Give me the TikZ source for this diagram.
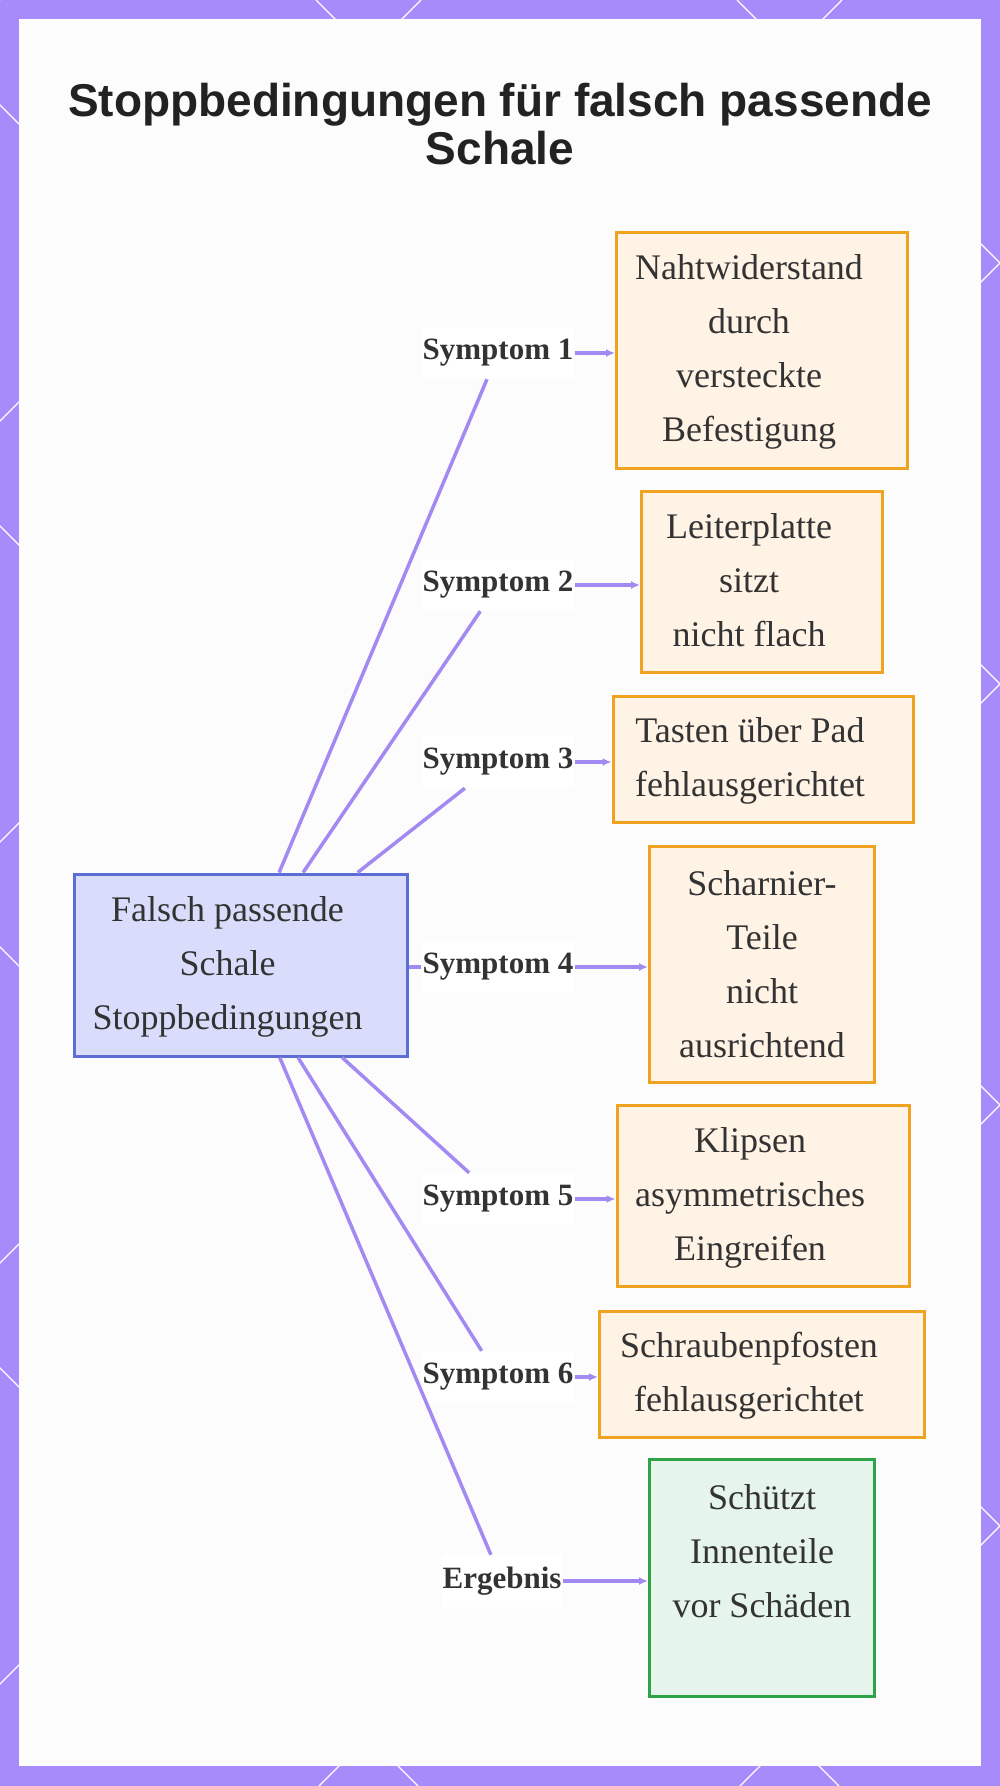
\documentclass[tikz,border=0pt]{standalone}
\usepackage{fontspec}
\setmainfont{Liberation Serif}
\newfontfamily\headfont{Liberation Sans}
\usetikzlibrary{arrows.meta}
\definecolor{framevio}{RGB}{167,139,250}
\definecolor{edgevio}{RGB}{163,138,242}
\definecolor{hubfill}{RGB}{217,221,251}
\definecolor{hubline}{RGB}{92,110,214}
\definecolor{warnfill}{RGB}{255,243,230}
\definecolor{warnline}{RGB}{240,163,32}
\definecolor{okfill}{RGB}{230,245,235}
\definecolor{okline}{RGB}{46,163,72}
\definecolor{ink}{RGB}{51,51,51}
% text sits a little left of the box middle
\newcommand\leantext[1]{\begin{tabular}{@{}c@{\hspace{26pt}}}#1\end{tabular}}
\tikzset{
  hub/.style = {rectangle, draw=hubline, fill=hubfill, line width=3pt,
                minimum width=333pt, minimum height=182pt,
                text=ink, font=\fontsize{36}{54}\selectfont},
  symbox/.style = {rectangle, draw=warnline, fill=warnfill, line width=3pt,
                   align=center, text=ink, font=\fontsize{36}{54}\selectfont},
  resbox/.style = {symbox, draw=okline, fill=okfill},
  tag/.style = {rectangle, fill=white, inner xsep=1pt, minimum height=52pt,
                text=ink, font=\fontsize{31}{31}\selectfont\bfseries},
  link/.style = {draw=edgevio, line width=3.5pt},
  arr/.style = {link, -{Latex[length=9pt,width=8pt]}}
}

\begin{document}
\begin{tikzpicture}[x=1pt, y=-1pt]
\useasboundingbox (0,0) rectangle (1000,1786);

% frame with diamond lines, then the white sheet
\fill[framevio] (0,0) rectangle (1000,1786);
\begin{scope}
\clip (0,0) rectangle (1000,1786);
\foreach \k in {-5,...,3}
  \draw[white, line width=1.2pt] ({316+421*\k},0) -- ({316+421*\k+1786},1786);
\foreach \m in {0,...,7}
  \draw[white, line width=1.2pt] ({421*\m},0) -- ({421*\m-1786},1786);
\end{scope}
\fill[white!99!black] (19,19) rectangle (981,1766);

% Title
\node[align=center, text={rgb,255:red,34;green,34;blue,34},
      font=\headfont\bfseries\fontsize{46}{48}\selectfont] (title) at (500,124)
  {Stoppbedingungen für falsch passende\\Schale};

% Hub
\node[hub] (hub) at (240.5,965) {\leantext{Falsch passende\\Schale\\Stoppbedingungen}};

% Symptom labels
\node[tag] (sym1) at (498,353) {Symptom 1};
\node[tag] (sym2) at (498,585) {Symptom 2};
\node[tag] (sym3) at (498,762) {Symptom 3};
\node[tag] (sym4) at (498,967) {Symptom 4};
\node[tag] (sym5) at (498,1199) {Symptom 5};
\node[tag] (sym6) at (498,1377) {Symptom 6};
\node[tag] (erg) at (502,1581) {Ergebnis};

% Boxes on the right
\node[symbox, minimum width=291pt, minimum height=236pt] (box1) at (762,350)
  {\leantext{Nahtwiderstand\\durch\\versteckte\\Befestigung}};
\node[symbox, minimum width=241pt, minimum height=181pt] (box2) at (762,582)
  {\leantext{Leiterplatte\\sitzt\\nicht flach}};
\node[symbox, minimum width=300pt, minimum height=126pt] (box3) at (763,759)
  {\leantext{Tasten über Pad\\fehlausgerichtet}};
\node[symbox, minimum width=225pt, minimum height=236pt] (box4) at (762,964)
  {Scharnier-\\Teile\\nicht\\ausrichtend};
\node[symbox, minimum width=292pt, minimum height=181pt] (box5) at (763,1196)
  {\leantext{Klipsen\\asymmetrisches\\Eingreifen}};
\node[symbox, minimum width=325pt, minimum height=126pt] (box6) at (762,1374)
  {\leantext{Schraubenpfosten\\fehlausgerichtet}};
\node[resbox, minimum width=225pt, minimum height=237pt] (box7) at (762,1578)
  {Schützt\\Innenteile\\vor Schäden\\\mbox{}};

% ----- LINES -----
% hub to labels
\draw[link] (hub) -- (sym1);
\draw[link] (hub) -- (sym2);
\draw[link] (hub) -- (sym3);
\draw[link] (hub.east |- sym4) -- (sym4);
\draw[link] (hub) -- (sym5);
\draw[link] (hub) -- (sym6);
\draw[link] (hub) -- (erg);
% labels to boxes
\draw[arr] (sym1) -- (box1.west |- sym1);
\draw[arr] (sym2) -- (box2.west |- sym2);
\draw[arr] (sym3) -- (box3.west |- sym3);
\draw[arr] (sym4) -- (box4.west |- sym4);
\draw[arr] (sym5) -- (box5.west |- sym5);
\draw[arr] (sym6) -- (box6.west |- sym6);
\draw[arr] (erg) -- (box7.west |- erg);

\end{tikzpicture}
\end{document}
